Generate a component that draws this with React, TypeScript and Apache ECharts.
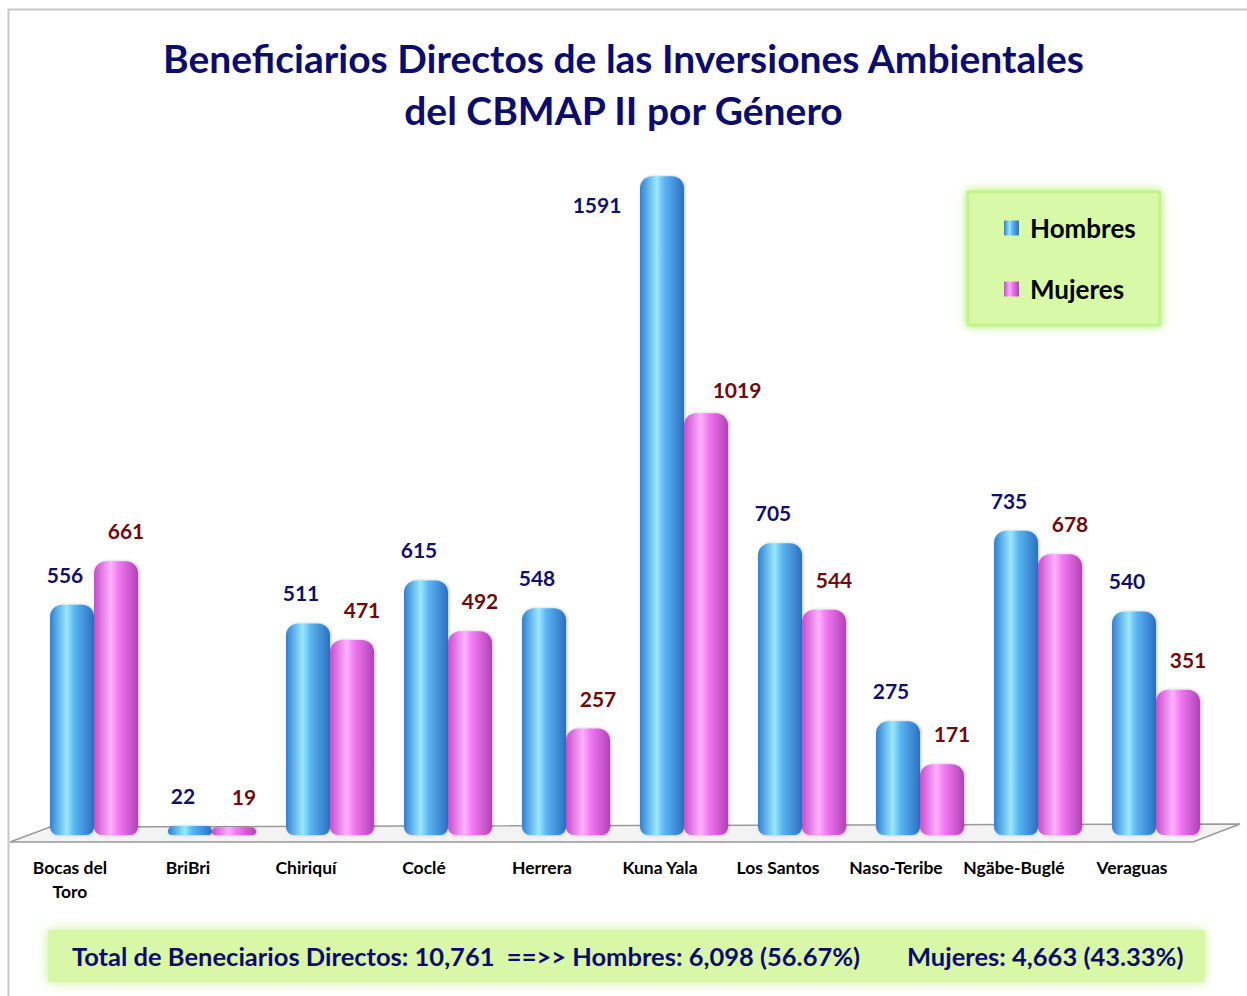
import React, { useEffect, useRef } from "react";
import * as echarts from "echarts";

const categories = [
  "Bocas del\nToro",
  "BriBri",
  "Chiriquí",
  "Coclé",
  "Herrera",
  "Kuna Yala",
  "Los Santos",
  "Naso-Teribe",
  "Ngäbe-Buglé",
  "Veraguas",
];
const hombres = [556, 22, 511, 615, 548, 1591, 705, 275, 735, 540];
const mujeres = [661, 19, 471, 492, 257, 1019, 544, 171, 678, 351];
const seriesNames = ["Hombres", "Mujeres"];
const titleText = "Beneficiarios Directos de las Inversiones Ambientales\ndel CBMAP II por Género";

const FONT = "Lato, 'Open Sans', sans-serif";

function fmt(n: number) {
  return n.toLocaleString("en-US");
}

export default function App() {
  const ref = useRef<HTMLDivElement>(null);
  useEffect(() => {
    if (!ref.current) return;
    const chart = echarts.init(ref.current, undefined, { renderer: "svg" });
    const totH = hombres.reduce((a, b) => a + b, 0);
    const totM = mujeres.reduce((a, b) => a + b, 0);
    const tot = totH + totM;
    const pctH = ((totH / tot) * 100).toFixed(2);
    const pctM = ((totM / tot) * 100).toFixed(2);

    const blueGrad = new echarts.graphic.LinearGradient(0, 0, 1, 0, [
      { offset: 0, color: "#2f80d6" },
      { offset: 0.38, color: "#9ae8ff" },
      { offset: 0.55, color: "#5cb6f2" },
      { offset: 1, color: "#2a6fc2" },
    ]);
    const pinkGrad = new echarts.graphic.LinearGradient(0, 0, 1, 0, [
      { offset: 0, color: "#c84ccc" },
      { offset: 0.38, color: "#ffb0ff" },
      { offset: 0.55, color: "#f27af2" },
      { offset: 1, color: "#b240b8" },
    ]);

    // the tallest bars carry their labels beside the cap, as in the source chart
    const hData = hombres.map((v, i) =>
      i === 5
        ? {
            value: v,
            label: {
              position: [-36, 28],
              align: "center",
              verticalAlign: "middle",
            },
          }
        : v
    );
    const mData = mujeres.map((v, i) =>
      i === 5 ? { value: v, label: { offset: [31, 7] } } : v
    );

    chart.setOption({
      animation: false,
      backgroundColor: "#ffffff",
      textStyle: { fontFamily: FONT },
      title: {
        text: titleText,
        left: "center",
        top: 27,
        textStyle: {
          fontFamily: FONT,
          fontSize: 39,
          fontWeight: "bold",
          color: "#0c0c6c",
          lineHeight: 52,
        },
      },
      legend: {
        orient: "vertical",
        left: 968,
        top: 192,
        padding: [23, 24, 23, 36],
        itemGap: 35,
        itemWidth: 15,
        itemHeight: 15,
        icon: "rect",
        backgroundColor: "#d8f9a8",
        borderColor: "#c4f38c",
        borderWidth: 3,
        shadowBlur: 10,
        shadowColor: "#a8ee5a",
        textStyle: {
          fontFamily: FONT,
          fontSize: 26,
          fontWeight: "bold",
          color: "#000000",
          padding: [0, 0, 0, 6],
        },
        data: seriesNames,
      },
      grid: { left: 35, width: 1180, top: 7, bottom: 161 },
      xAxis: {
        type: "category",
        data: categories,
        axisLine: { show: false },
        axisTick: { show: false },
        axisLabel: {
          interval: 0,
          margin: 20,
          fontFamily: FONT,
          fontSize: 17.5,
          fontWeight: "bold",
          color: "#000000",
          lineHeight: 24,
          padding: [0, 48, 0, 0],
        },
      },
      yAxis: {
        type: "value",
        min: 0,
        max: 2000,
        show: false,
        splitLine: { show: false },
      },
      graphic: [
        {
          type: "rect",
          z: -10,
          shape: { x: 8.5, y: 9.5, width: 1260, height: 1010 },
          style: { fill: "none", stroke: "#c8c8c8", lineWidth: 2 },
        },
        {
          type: "polygon",
          z: -5,
          shape: {
            points: [
              [10, 842],
              [50, 827],
              [1240, 824],
              [1193, 842],
            ],
          },
          style: { fill: "#f3f3f3", stroke: "#9a9a9a", lineWidth: 1.5 },
        },
        {
          type: "rect",
          shape: { x: 48, y: 930, width: 1157, height: 52 },
          style: {
            fill: "#d8f8a8",
            shadowBlur: 12,
            shadowColor: "#c8f090",
          },
        },
        {
          type: "text",
          x: 72,
          y: 956,
          style: {
            text: `Total de Beneciarios Directos: ${fmt(tot)}  ==>> Hombres: ${fmt(totH)} (${pctH}%)`,
            fontFamily: FONT,
            fontSize: 25.5,
            fontWeight: "bold",
            fill: "#0c0c6c",
            verticalAlign: "middle",
          },
        },
        {
          type: "text",
          x: 907,
          y: 956,
          style: {
            text: `Mujeres: ${fmt(totM)} (${pctM}%)`,
            fontFamily: FONT,
            fontSize: 25.5,
            fontWeight: "bold",
            fill: "#0c0c6c",
            verticalAlign: "middle",
          },
        },
      ],
      series: [
        {
          name: seriesNames[0],
          type: "bar",
          data: hData,
          barWidth: 44,
          barGap: "0%",
          z: 3,
          itemStyle: {
            color: blueGrad,
            borderRadius: [12, 12, 8, 8],
            shadowBlur: 3,
            shadowColor: "rgba(0,0,0,0.25)",
            shadowOffsetX: 1,
          },
          label: {
            show: true,
            position: "top",
            distance: 20,
            offset: [-7, 0],
            fontFamily: FONT,
            fontSize: 21,
            fontWeight: "bold",
            color: "#101066",
          },
        },
        {
          name: seriesNames[1],
          type: "bar",
          data: mData,
          barWidth: 44,
          z: 3,
          itemStyle: {
            color: pinkGrad,
            borderRadius: [12, 12, 8, 8],
            shadowBlur: 3,
            shadowColor: "rgba(0,0,0,0.25)",
            shadowOffsetX: 1,
          },
          label: {
            show: true,
            position: "top",
            distance: 20,
            offset: [10, 0],
            fontFamily: FONT,
            fontSize: 21,
            fontWeight: "bold",
            color: "#6e0a0a",
          },
        },
      ],
    });
    return () => chart.dispose();
  }, []);
  return (
    <div
      ref={ref}
      style={{ position: "absolute", left: 0, top: 0, width: 1247, height: 996 }}
    />
  );
}
